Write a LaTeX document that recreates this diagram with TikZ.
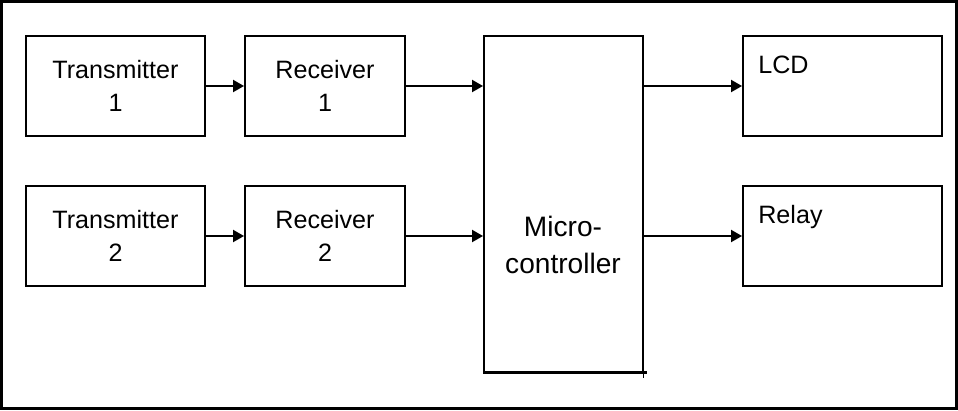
\documentclass[tikz,border=0pt]{standalone}
\usepackage{fontspec}
\setmainfont{Liberation Sans}
\usetikzlibrary{arrows.meta}
\begin{document}
\begin{tikzpicture}[x=0.02cm, y=-0.02cm,
    blk/.style={draw, line width=1.1pt, inner sep=0pt, align=center, font=\fontsize{14.3}{18.7}\selectfont},
    lbl/.style={inner sep=0pt, anchor=base west, font=\fontsize{14.3}{18.7}\selectfont},
    lnk/.style={line width=1.1pt, -{Triangle[length=0.22cm, width=0.24cm]}}]
        \useasboundingbox (0,0) rectangle (958,410);
        \draw[line width=0.06cm] (1.5,1.5) rectangle (956.5,408.5);
        \node[blk, minimum width=3.58cm, minimum height=2cm] (tx1) at (115.5,86) {Transmitter\\1};
        \node[blk, minimum width=3.58cm, minimum height=2cm] (tx2) at (115.5,236) {Transmitter\\2};
        \node[blk, minimum width=3.2cm, minimum height=2cm] (rx1) at (325,86) {Receiver\\1};
        \node[blk, minimum width=3.2cm, minimum height=2cm] (rx2) at (325,236) {Receiver\\2};
        \node[blk, minimum width=3.18cm, minimum height=6.72cm] (mcu) at (563.5,204) {};
        \node[align=center, font=\fontsize{16}{21.5}\selectfont] (mcutxt) at (563,245) {Micro-\\controller};
        \node[blk, minimum width=3.98cm, minimum height=2cm] (lcd) at (842.5,86) {};
        \node[lbl] (lcdtxt) at (758,73) {LCD};
        \node[blk, minimum width=3.98cm, minimum height=2cm] (relay) at (842.5,236) {};
        \node[lbl] (relaytxt) at (758,223) {Relay};
        % heavy bottom edge of the controller block
        \draw[line width=0.06cm] (mcu.south west) -- ++(164,0);
        \draw[line width=0.6pt] (mcu.south east) -- ++(0,5);
        \foreach \i/\j in {tx1/rx1, tx2/rx2}
        \draw[lnk] (\i) -- (\j);
        \foreach \i in {rx1, rx2}
        \draw[lnk] (\i) -- (\i -| mcu.west);
        \foreach \j in {lcd, relay}
        \draw[lnk] (mcu.east |- \j) -- (\j);
    \end{tikzpicture}
\end{document}
